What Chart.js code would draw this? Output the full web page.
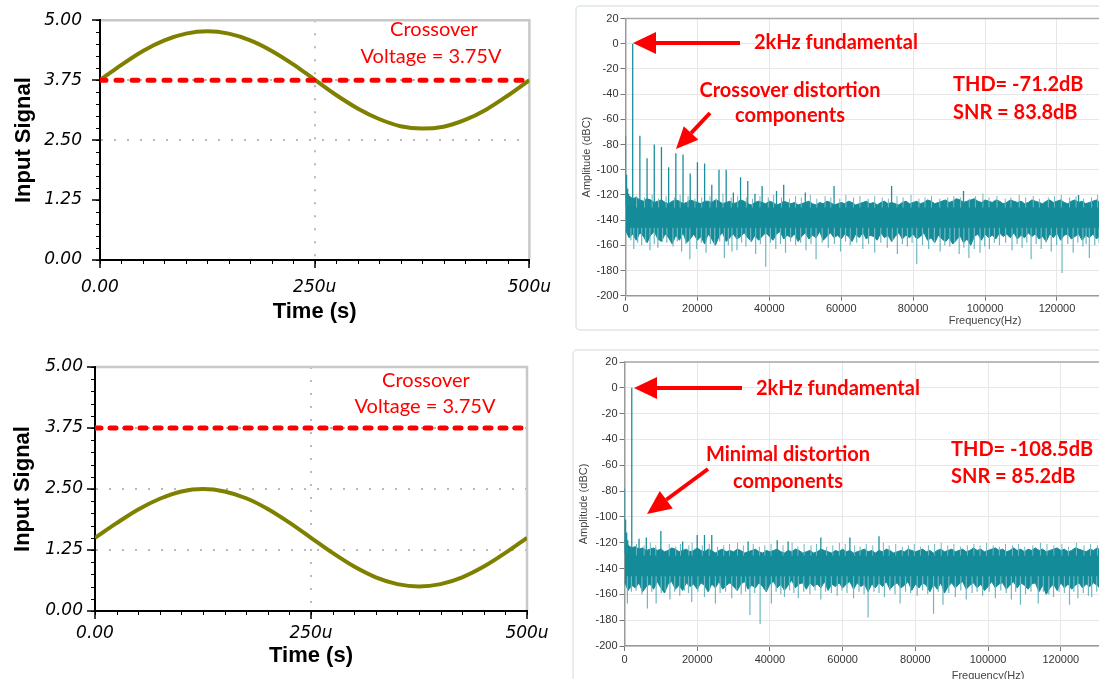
<!DOCTYPE html>
<html>
<head>
<meta charset="utf-8">
<title>Crossover distortion - input signal and FFT</title>
<script src="https://cdn.jsdelivr.net/npm/chart.js@4.4.1/dist/chart.umd.min.js"></script>
<style>
  html, body { margin: 0; padding: 0; background: #fff; }
  body { width: 1099px; height: 679px; overflow: hidden; position: relative; }
  canvas { position: absolute; }
</style>
</head>
<body>
<canvas id="sigTop" width="560" height="330" style="left:0;top:0"></canvas>
<canvas id="sigBot" width="560" height="334" style="left:0;top:345px"></canvas>
<canvas id="fftTop" width="790" height="335" style="left:575px;top:0"></canvas>
<canvas id="fftBot" width="800" height="345" style="left:572px;top:345px"></canvas>
<script>
// ---- time domain (one sample every 25 us) ----
const timeUs = [0, 25, 50, 75, 100, 125, 150, 175, 200, 225, 250, 275, 300, 325, 350, 375, 400, 425, 450, 475, 500];
const signalTop = [3.75, 4.07, 4.36, 4.58, 4.72, 4.77, 4.72, 4.58, 4.36, 4.08, 3.76, 3.44, 3.16, 2.94, 2.79, 2.74, 2.78, 2.92, 3.14, 3.43, 3.75];
const signalBot = [1.50, 1.80, 2.08, 2.30, 2.45, 2.50, 2.45, 2.31, 2.09, 1.81, 1.50, 1.19, 0.91, 0.69, 0.55, 0.50, 0.55, 0.69, 0.91, 1.19, 1.50];
const crossoverV = 3.75;
const voltTicks = [0, 1.25, 2.5, 3.75, 5];
const voltTickLabels = ['0.00', '1.25', '2.50', '3.75', '5.00'];
const timeTicks = [0, 250, 500];
const timeTickLabels = ['0.00', '250u', '500u'];

// ---- FFT, top (crossover distortion) ----
const topHarmHz = [0, 300, 600, 900, 1200, 2000, 4000, 6000, 8000, 10000, 12000, 14000, 16000, 18000, 20000, 22000, 24000, 26000, 28000, 30000, 32000, 34000, 36000, 38000, 42000, 44000, 50000, 58000, 74000, 94000, 126000];
const topHarmDb = [-73, -104, -115, -119, -121, 0, -73, -91, -80, -82, -98, -87, -88, -103, -94, -95, -112, -100, -100, -118, -106, -109, -119, -113, -117, -112, -118, -113, -113, -117, -120];
const topUpHz = [3100, 5300, 7400, 9200, 11300, 13600, 15200, 17400, 19300, 21200,
  23500, 25300, 27100, 29400, 31200, 33600, 35300, 37400, 39700, 41200,
  43400, 45600, 47300, 48900, 51400, 53200, 55500, 57100, 59600, 61300,
  63400, 65200, 67500, 69300, 71400, 73100, 75500, 77200, 79400, 81600,
  83300, 85100, 87400, 89600, 91300, 93200, 95600, 97300, 99400, 101100,
  103300, 105600, 107200, 109500, 111300, 113400, 115100, 117600, 119300, 121200,
  123500, 125300, 127400, 129600, 131300];
const topUpDb = [-121, -122, -120, -123, -121, -122, -120, -121, -123, -122,
  -121, -123, -119, -122, -121, -122, -123, -121, -122, -120,
  -122, -123, -121, -122, -120, -123, -121, -122, -123, -120,
  -122, -121, -123, -121, -122, -123, -121, -122, -120, -123,
  -122, -121, -123, -122, -121, -122, -123, -121, -119, -122,
  -121, -123, -122, -120, -122, -121, -123, -122, -121, -120,
  -122, -121, -123, -122, -120];
const topDipHz = [1500, 2300, 3400, 4500, 5600, 6800, 8000, 9000, 10300, 11500,
  13200, 14400, 15600, 16800, 17900, 19800, 21100, 22400, 23600, 24800,
  26200, 27500, 28600, 29600, 31000, 32300, 33500, 34800, 36200, 37500,
  39000, 40300, 41800, 43100, 44500, 45900, 47300, 48700, 50200, 51600,
  53000, 54700, 56400, 58100, 59800, 61200, 62500, 64300, 66000, 67600,
  69300, 71000, 72800, 74200, 75600, 77000, 78400, 79700, 81000, 82600,
  84300, 85900, 87500, 88800, 90200, 91500, 92800, 94100, 95500, 97000,
  98600, 99900, 101200, 102600, 104000, 105700, 107500, 108900, 110300, 111600,
  112800, 114200, 115600, 117000, 118400, 119900, 121400, 123000, 124500, 125800,
  127200, 128100, 129000, 130500, 131700];
const topDipDb = [-156, -163, -158, -160, -157, -164, -159, -162, -157, -158,
  -161, -157, -165, -159, -171, -163, -158, -166, -159, -160,
  -157, -170, -160, -165, -164, -158, -161, -157, -167, -159,
  -177, -158, -163, -159, -166, -157, -160, -158, -164, -159,
  -171, -158, -162, -159, -165, -157, -160, -158, -163, -159,
  -166, -158, -162, -157, -167, -159, -161, -158, -175, -160,
  -163, -158, -165, -160, -161, -158, -167, -162, -170, -163,
  -166, -161, -163, -158, -160, -158, -164, -159, -162, -158,
  -171, -159, -163, -158, -165, -160, -182, -159, -166, -158,
  -161, -159, -170, -160, -158];
// noise floor envelope, one value per 1 kHz bin from 0 Hz
const topFloorHigh = [
  -119, -121, -123, -122, -124, -125, -123, -124, -126, -125,
  -124, -126, -127, -125, -124, -125, -127, -126, -124, -125,
  -126, -127, -125, -125, -126, -124, -125, -127, -126, -125,
  -127, -126, -124, -125, -127, -128, -126, -125, -126, -127,
  -125, -126, -128, -127, -125, -126, -127, -126, -128, -127,
  -126, -125, -127, -128, -126, -127, -125, -126, -128, -127,
  -126, -127, -125, -126, -128, -127, -126, -125, -127, -126,
  -128, -126, -125, -127, -126, -127, -128, -126, -125, -127,
  -126, -125, -127, -126, -124, -125, -127, -126, -125, -124,
  -126, -125, -123, -124, -126, -125, -124, -123, -125, -126,
  -124, -125, -126, -124, -125, -127, -126, -124, -125, -126,
  -125, -127, -126, -124, -125, -126, -127, -125, -124, -126,
  -125, -124, -126, -127, -125, -124, -126, -125, -127, -126,
  -125, -124, -126];
const topFloorLow = [
  -148, -154, -151, -156, -150, -153, -158, -152, -149, -155,
  -157, -151, -154, -159, -152, -156, -150, -158, -155, -151,
  -156, -153, -159, -151, -155, -160, -153, -150, -157, -154,
  -151, -155, -153, -150, -154, -157, -152, -156, -153, -150,
  -153, -156, -151, -149, -155, -152, -154, -151, -157, -153,
  -150, -155, -152, -154, -149, -156, -153, -150, -154, -152,
  -155, -151, -153, -157, -151, -154, -150, -155, -152, -153,
  -156, -150, -154, -152, -157, -153, -150, -155, -152, -154,
  -151, -155, -153, -150, -156, -154, -158, -152, -155, -157,
  -154, -159, -156, -152, -158, -155, -160, -153, -151, -156,
  -151, -154, -152, -155, -150, -153, -151, -154, -150, -155,
  -152, -154, -150, -153, -151, -155, -153, -157, -151, -154,
  -150, -156, -152, -151, -155, -153, -151, -156, -152, -154,
  -151, -155, -152];

// ---- FFT, bottom (minimal distortion) ----
const botHarmHz = [0, 300, 600, 900, 2000, 4000, 6000, 10000, 16000, 20000, 22000, 24000, 34000, 42000, 45000, 54000, 62000, 70000];
const botHarmDb = [-78, -102, -112, -118, 0, -117, -116, -111, -119, -114, -114, -114, -119, -118, -119, -116, -116, -115];
const botUpHz = [3300, 5400, 7100, 8600, 12300, 14100, 15400, 17700, 18600, 21400,
  23300, 25600, 27300, 28900, 31100, 32700, 35400, 37100, 38600, 40300,
  43600, 46100, 47700, 49400, 51300, 52800, 55600, 57300, 59100, 60700,
  63300, 64800, 66500, 68300, 71200, 72800, 74600, 76400, 78100, 79700,
  81400, 83600, 85300, 87100, 88900, 90600, 92400, 94300, 96100, 97800,
  99600, 101400, 103100, 104800, 106700, 108400, 110100, 112300, 114400, 116200,
  118100, 120300, 122100, 124300, 126400, 128200, 130100];
const botUpDb = [-121, -122, -120, -122, -121, -123, -121, -122, -120, -122,
  -121, -123, -122, -121, -120, -122, -121, -123, -122, -121,
  -122, -120, -123, -121, -122, -121, -123, -122, -120, -121,
  -122, -123, -121, -122, -120, -122, -121, -123, -122, -121,
  -123, -122, -121, -120, -122, -121, -123, -122, -121, -122,
  -120, -122, -123, -121, -122, -121, -123, -122, -120, -121,
  -122, -121, -123, -120, -122, -121, -122];
const botDipHz = [800, 1900, 3200, 4800, 6300, 7500, 8700, 10100, 11200, 12500,
  13800, 15200, 16500, 17600, 18500, 20200, 22000, 23400, 25000, 26300,
  27800, 29500, 30800, 32100, 33300, 34500, 35800, 37300, 38900, 40400,
  41700, 43000, 44000, 45400, 46600, 47800, 49300, 51000, 52400, 54000,
  55300, 56900, 58500, 59800, 61200, 63000, 64500, 65900, 67000, 68600,
  70000, 71500, 73000, 74400, 75800, 77300, 78700, 80500, 82000, 83400,
  85000, 86300, 87600, 89200, 91000, 92500, 94000, 95600, 97000, 98500,
  100300, 102000, 103500, 105000, 106400, 107600, 108900, 110300, 111800, 113800,
  115200, 116700, 118000, 119500, 121000, 122400, 123600, 124700, 126200, 127600,
  128500, 129900, 131200];
const botDipDb = [-167, -158, -157, -160, -171, -158, -167, -159, -157, -164,
  -158, -161, -157, -159, -166, -158, -162, -157, -167, -159,
  -158, -163, -157, -160, -158, -176, -159, -183, -158, -167,
  -158, -160, -162, -157, -159, -163, -158, -160, -157, -164,
  -158, -159, -161, -157, -159, -163, -158, -160, -178, -158,
  -159, -162, -157, -160, -167, -158, -159, -161, -157, -160,
  -175, -158, -168, -159, -162, -157, -164, -159, -158, -161,
  -158, -163, -157, -159, -164, -158, -168, -160, -158, -167,
  -158, -160, -162, -158, -159, -168, -158, -163, -159, -161,
  -162, -158, -160];
const botFloorHigh = [
  -118, -122, -124, -123, -125, -124, -126, -125, -124, -126,
  -125, -127, -126, -124, -125, -127, -126, -125, -127, -126,
  -124, -126, -127, -125, -126, -128, -126, -125, -127, -126,
  -127, -125, -126, -128, -127, -126, -125, -127, -128, -126,
  -127, -126, -125, -127, -128, -126, -127, -125, -126, -128,
  -127, -126, -128, -127, -125, -126, -127, -128, -126, -127,
  -125, -127, -126, -128, -127, -126, -125, -127, -126, -128,
  -126, -127, -125, -126, -128, -127, -126, -127, -125, -126,
  -127, -126, -125, -127, -126, -128, -126, -125, -127, -126,
  -125, -127, -126, -125, -127, -126, -124, -126, -125, -127,
  -126, -125, -124, -126, -125, -127, -126, -124, -126, -125,
  -127, -125, -126, -124, -126, -125, -127, -126, -125, -124,
  -126, -125, -127, -126, -124, -125, -126, -127, -125, -126,
  -124, -126, -125];
const botFloorLow = [
  -150, -157, -153, -155, -151, -158, -154, -152, -156, -150,
  -155, -159, -152, -150, -156, -153, -157, -151, -154, -152,
  -156, -151, -153, -158, -152, -155, -150, -156, -153, -151,
  -154, -157, -152, -150, -156, -153, -155, -151, -154, -158,
  -152, -150, -155, -152, -157, -153, -149, -155, -152, -151,
  -156, -151, -154, -152, -155, -150, -157, -152, -154, -151,
  -155, -152, -150, -156, -151, -154, -152, -158, -152, -155,
  -151, -154, -150, -156, -153, -151, -155, -153, -150, -157,
  -152, -155, -151, -153, -158, -152, -156, -151, -159, -154,
  -151, -155, -152, -150, -156, -153, -151, -155, -152, -157,
  -154, -150, -155, -152, -151, -156, -153, -150, -155, -151,
  -153, -156, -152, -151, -158, -153, -160, -155, -152, -157,
  -151, -155, -152, -156, -153, -151, -155, -152, -154, -151,
  -153, -156, -152];
const floorBinHz = 1000;

const RED = '#ff0000';
const OLIVE = '#808000';
const TEAL = '#138b98';
const TEAL_LIGHT = '#6db7c1';

// draws arrows and free text given in canvas pixels
function notesPlugin(items) {
  return {
    id: 'notes',
    afterDraw(chart) {
      const ctx = chart.ctx;
      ctx.save();
      items.forEach(function (it) {
        ctx.fillStyle = RED;
        ctx.strokeStyle = RED;
        if (it.arrow) {
          const [x1, y1, x2, y2] = it.arrow;
          const a = Math.atan2(y2 - y1, x2 - x1);
          const bx = x2 - it.head * Math.cos(a), by = y2 - it.head * Math.sin(a);
          ctx.lineWidth = 4;
          ctx.beginPath(); ctx.moveTo(x1, y1); ctx.lineTo(bx, by); ctx.stroke();
          ctx.beginPath();
          ctx.moveTo(x2, y2);
          ctx.lineTo(bx - it.half * Math.sin(a), by + it.half * Math.cos(a));
          ctx.lineTo(bx + it.half * Math.sin(a), by - it.half * Math.cos(a));
          ctx.closePath();
          ctx.fill();
        } else {
          ctx.font = it.font;
          ctx.textAlign = it.align || 'left';
          ctx.textBaseline = 'alphabetic';
          ctx.fillText(it.text, it.x, it.y);
        }
      });
      ctx.restore();
    }
  };
}

// light frame on top/right plus the small minor ticks of the scope plots
const scopeFrame = {
  id: 'scopeFrame',
  beforeDatasetsDraw(chart) {
    const {ctx, chartArea: a} = chart;
    ctx.save();
    ctx.strokeStyle = '#c8c8c8';
    ctx.lineWidth = 2.5;
    ctx.beginPath();
    ctx.moveTo(a.left + 1, a.top);
    ctx.lineTo(a.right, a.top);
    ctx.lineTo(a.right, a.bottom - 1);
    ctx.stroke();
    ctx.restore();
  },
  afterDraw(chart) {
    const {ctx, chartArea: a, scales} = chart;
    ctx.save();
    ctx.strokeStyle = '#000';
    ctx.lineWidth = 1;
    ctx.beginPath();
    for (let k = 0; k <= 20; k++) {
      const py = Math.round(scales.y.getPixelForValue(k * 0.25)) + 0.5;
      ctx.moveTo(a.left - 4, py); ctx.lineTo(a.left, py);
      const px = Math.round(scales.x.getPixelForValue(k * 25)) + 0.5;
      ctx.moveTo(px, a.bottom); ctx.lineTo(px, a.bottom + 4);
    }
    ctx.stroke();
    ctx.restore();
  }
};

function scopeChart(id, signal, box, gridVolts, dash, notes) {
  const tickFont = {family: 'DejaVu Sans', style: 'italic', size: 17};
  const titleFont = {family: 'Liberation Sans', weight: 'bold', size: 22};
  return new Chart(document.getElementById(id), {
    type: 'line',
    data: {
      datasets: [{
        data: timeUs.map((t, i) => ({x: t, y: signal[i]})),
        borderColor: OLIVE,
        borderWidth: 4,
        pointRadius: 0,
        cubicInterpolationMode: 'monotone',
        order: 1
      }, {
        data: [{x: timeUs[0], y: crossoverV}, {x: timeUs[timeUs.length - 1], y: crossoverV}],
        borderColor: RED,
        borderWidth: 5,
        borderDash: dash,
        borderCapStyle: 'round',
        pointRadius: 0,
        order: 0
      }]
    },
    options: {
      responsive: false,
      animation: false,
      devicePixelRatio: 1,
      layout: {padding: {left: 0, top: box.top, right: box.right, bottom: 0}},
      plugins: {legend: {display: false}, tooltip: {enabled: false}},
      scales: {
        x: {
          type: 'linear', min: 0, max: 500,
          afterFit: s => { s.height = box.xh; },
          afterBuildTicks: s => { s.ticks = timeTicks.map(v => ({value: v})); },
          ticks: {
            callback: (v, i) => timeTickLabels[i],
            font: tickFont, color: '#000', padding: box.xpad, maxRotation: 0, autoSkip: false
          },
          grid: {
            color: c => (c.tick && c.tick.value === 250 ? '#b9b9b9' : 'transparent'),
            lineWidth: 2, tickColor: '#000', tickLength: 8, tickWidth: 1.5
          },
          border: {color: '#000', width: 2, dash: [2, 11]},
          title: {display: true, text: 'Time (s)', font: titleFont, color: '#000', padding: {top: 0, bottom: box.tpad}}
        },
        y: {
          type: 'linear', min: 0, max: 5,
          afterFit: s => { s.width = box.left; },
          afterBuildTicks: s => { s.ticks = voltTicks.map(v => ({value: v})); },
          ticks: {
            callback: (v, i) => voltTickLabels[i],
            font: tickFont, color: '#000', padding: box.ypad
          },
          grid: {
            color: c => (c.tick && gridVolts.includes(c.tick.value) ? '#b9b9b9' : 'transparent'),
            lineWidth: 2, tickColor: '#000', tickLength: 8, tickWidth: 1.5
          },
          border: {color: '#000', width: 2, dash: [2, 11]},
          title: {display: true, text: 'Input Signal', font: titleFont, color: '#000', padding: {top: box.ytpad, bottom: 0}}
        }
      }
    },
    plugins: [scopeFrame, notesPlugin(notes)]
  });
}

function spikes(hz, db, base) {
  const pts = [];
  hz.forEach(function (f, i) {
    pts.push({x: f, y: base}, {x: f, y: db[i]}, {x: f, y: null});
  });
  return pts;
}

function fftChart(id, f, box, notes) {
  const small = {family: 'Liberation Sans', size: 11};
  const floorPts = arr => arr.map((v, i) => ({x: i * floorBinHz, y: v}));
  const panel = {
    id: 'panel',
    beforeDraw(chart) {
      const ctx = chart.ctx;
      ctx.save();
      ctx.strokeStyle = '#dfe6eb';
      ctx.lineWidth = 1.5;
      ctx.beginPath();
      ctx.roundRect(box.panelX, box.panelY, chart.width, box.panelH, 4);
      ctx.stroke();
      ctx.restore();
    },
    beforeDatasetsDraw(chart) {
      const {ctx, chartArea: a} = chart;
      ctx.save();
      ctx.strokeStyle = '#a9a9a9';
      ctx.lineWidth = 1.5;
      ctx.beginPath();
      ctx.moveTo(a.left, a.top);
      ctx.lineTo(a.right, a.top);
      ctx.stroke();
      ctx.restore();
    }
  };
  return new Chart(document.getElementById(id), {
    type: 'line',
    data: {
      datasets: [{
        data: spikes(f.harmHz, f.harmDb, -128),
        borderColor: '#1a8f9c', borderWidth: 1.3, pointRadius: 0, order: 0
      }, {
        data: spikes(f.upHz, f.upDb, -130),
        borderColor: TEAL_LIGHT, borderWidth: 1, pointRadius: 0, order: 1
      }, {
        data: spikes(f.dipHz, f.dipDb, -146),
        borderColor: TEAL_LIGHT, borderWidth: 1.2, pointRadius: 0, order: 1
      }, {
        data: floorPts(f.high),
        borderColor: TEAL, backgroundColor: TEAL, borderWidth: 1,
        pointRadius: 0, fill: '+1', order: 2
      }, {
        data: floorPts(f.low),
        borderColor: TEAL, borderWidth: 1, pointRadius: 0, order: 2
      }]
    },
    options: {
      responsive: false,
      animation: false,
      devicePixelRatio: 1,
      layout: {padding: {left: 0, top: box.top, right: box.right, bottom: 0}},
      plugins: {legend: {display: false}, tooltip: {enabled: false}},
      scales: {
        x: {
          type: 'linear', min: 0, max: 200000,
          afterFit: s => { s.height = box.xh; },
          ticks: {stepSize: 20000, callback: v => String(v), font: small, color: '#333', padding: 2, maxRotation: 0, autoSkip: false},
          grid: {color: '#e7e7e7', lineWidth: 1, tickColor: '#777', tickLength: 5},
          border: {color: '#9a9a9a', width: 1.5},
          title: {display: true, text: 'Frequency(Hz)', font: small, color: '#444', padding: {top: 0, bottom: box.tpad}}
        },
        y: {
          type: 'linear', min: -200, max: 20,
          afterFit: s => { s.width = box.left; },
          ticks: {stepSize: 20, font: small, color: '#333', padding: 2},
          grid: {color: '#e7e7e7', lineWidth: 1, tickColor: '#777', tickLength: 5},
          border: {color: '#9a9a9a', width: 1.5},
          title: {display: true, text: 'Amplitude (dBC)', font: small, color: '#444', padding: {top: 5, bottom: 0}}
        }
      }
    },
    plugins: [panel, notesPlugin(notes)]
  });
}

const noteFont = '20px Lato';
const boldFont = 'bold 20px Lato';

scopeChart('sigTop', signalTop,
  {left: 100, top: 16, right: 28, xh: 70, xpad: 9, ypad: 10, tpad: 5, ytpad: 11},
  [2.5, 3.75], [6, 10],
  [
    {text: 'Crossover', x: 434, y: 36, font: noteFont, align: 'center'},
    {text: 'Voltage = 3.75V', x: 431, y: 63, font: noteFont, align: 'center'}
  ]);

scopeChart('sigBot', signalBot,
  {left: 95, top: 22, right: 33, xh: 68, xpad: 4, ypad: 4, tpad: 10, ytpad: 10},
  [1.25, 2.5, 3.75], [6, 9],
  [
    {text: 'Crossover', x: 426, y: 42, font: noteFont, align: 'center'},
    {text: 'Voltage = 3.75V', x: 425, y: 68, font: noteFont, align: 'center'}
  ]);

fftChart('fftTop',
  {harmHz: topHarmHz, harmDb: topHarmDb, upHz: topUpHz, upDb: topUpDb, dipHz: topDipHz, dipDb: topDipDb, high: topFloorHigh, low: topFloorLow},
  {left: 50.5, top: 18.5, right: 11.5, xh: 39.3, tpad: 7.7, panelX: 1, panelY: 6, panelH: 324},
  [
    {arrow: [165, 43, 58, 43], head: 23, half: 11},
    {text: '2kHz fundamental', x: 179, y: 49, font: boldFont},
    {arrow: [135, 113, 101, 149], head: 22, half: 10},
    {text: 'Crossover distortion', x: 215, y: 97, font: boldFont, align: 'center'},
    {text: 'components', x: 215, y: 122, font: boldFont, align: 'center'},
    {text: 'THD= -71.2dB', x: 378, y: 91, font: boldFont},
    {text: 'SNR = 83.8dB', x: 378, y: 119, font: boldFont}
  ]);

fftChart('fftBot',
  {harmHz: botHarmHz, harmDb: botHarmDb, upHz: botUpHz, upDb: botUpDb, dipHz: botDipHz, dipDb: botDipDb, high: botFloorHigh, low: botFloorLow},
  {left: 52.5, top: 17, right: 14.5, xh: 44, tpad: 7.4, panelX: 1, panelY: 5, panelH: 400},
  [
    {arrow: [170, 43, 62, 43], head: 23, half: 11},
    {text: '2kHz fundamental', x: 184, y: 50, font: boldFont},
    {arrow: [136, 124, 75, 169], head: 24, half: 11},
    {text: 'Minimal distortion', x: 216, y: 116, font: boldFont, align: 'center'},
    {text: 'components', x: 216, y: 143, font: boldFont, align: 'center'},
    {text: 'THD= -108.5dB', x: 379, y: 111, font: boldFont},
    {text: 'SNR = 85.2dB', x: 379, y: 138, font: boldFont}
  ]);
</script>
</body>
</html>
